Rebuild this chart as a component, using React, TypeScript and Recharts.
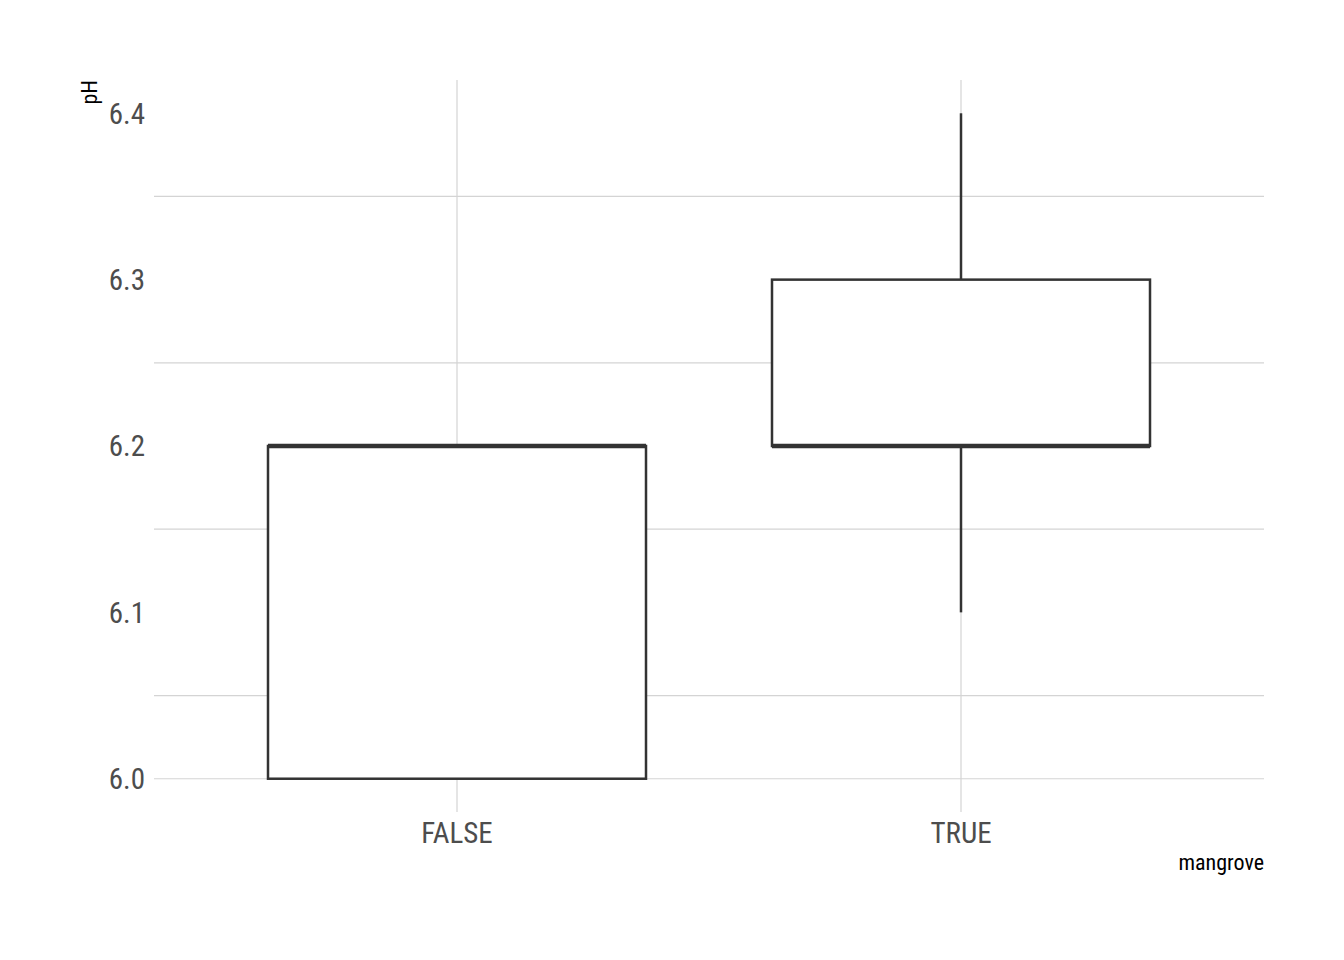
import { Bar, CartesianGrid, ComposedChart, XAxis, YAxis } from 'recharts';

const categories = ['FALSE', 'TRUE'];
const minValues = [6.0, 6.1];
const q1Values = [6.0, 6.2];
const medianValues = [6.2, 6.2];
const q3Values = [6.2, 6.3];
const maxValues = [6.2, 6.4];
const yTicks = [6.0, 6.1, 6.2, 6.3, 6.4];
const minorTicks = [6.05, 6.15, 6.25, 6.35];

const data = categories.map((name, i) => ({
  name,
  min: minValues[i],
  q1: q1Values[i],
  median: medianValues[i],
  q3: q3Values[i],
  max: maxValues[i],
  box: [q1Values[i], q3Values[i]],
}));

const font = "'Liberation Sans Narrow', 'Roboto Condensed', 'Liberation Sans', sans-serif";
const ink = '#333333';
const gridColor = '#d4d4d4';

// box drawn from the [q1, q3] bar; other values placed with the same scale
const BoxShape = (props: any) => {
  const { x, y, width, height, payload } = props;
  const top = Math.min(y, y + height);
  const h = Math.abs(height);
  const perUnit = h / (payload.q3 - payload.q1);
  const toY = (v: number) => top + (payload.q3 - v) * perUnit;
  const cx = x + width / 2;
  return (
    <g>
      {payload.max > payload.q3 && (
        <line x1={cx} x2={cx} y1={toY(payload.max)} y2={top} stroke={ink} strokeWidth={2.5} />
      )}
      {payload.min < payload.q1 && (
        <line x1={cx} x2={cx} y1={top + h} y2={toY(payload.min)} stroke={ink} strokeWidth={2.5} />
      )}
      <rect x={x} y={top} width={width} height={h} fill="#ffffff" stroke={ink} strokeWidth={2.5} />
      <line
        x1={x}
        x2={x + width}
        y1={toY(payload.median)}
        y2={toY(payload.median)}
        stroke={ink}
        strokeWidth={4.5}
      />
    </g>
  );
};

export default function App() {
  return (
    <div style={{ position: 'absolute', left: 0, top: 0, background: '#fff' }}>
      <ComposedChart
        width={1344}
        height={960}
        data={data}
        margin={{ top: 80, right: 80, bottom: 118, left: 0 }}
      >
        <CartesianGrid
          stroke={gridColor}
          strokeWidth={1.2}
          horizontalValues={[...yTicks, ...minorTicks]}
          verticalValues={categories}
        />
        <XAxis
          dataKey="name"
          type="category"
          height={30}
          axisLine={false}
          tickLine={false}
          tickSize={0}
          tickMargin={10}
          padding={{ left: 51, right: 51 }}
          tick={{ fontFamily: font, fontSize: 29, fill: '#4d4d4d' }}
          label={{
            content: ({ viewBox }: any) => (
              <text
                x={viewBox.x + viewBox.width}
                y={viewBox.y + 58}
                textAnchor="end"
                fontFamily={font}
                fontSize={22}
                fill="#000000"
              >
                mangrove
              </text>
            ),
          }}
        />
        <YAxis
          type="number"
          domain={[5.98, 6.42]}
          ticks={yTicks}
          allowDataOverflow
          width={154}
          axisLine={false}
          tickLine={false}
          tickSize={0}
          tickMargin={9}
          tickFormatter={(v: number) => v.toFixed(1)}
          tick={{ fontFamily: font, fontSize: 29, fill: '#4d4d4d' }}
          label={{
            content: () => (
              <text
                x={97}
                y={80}
                transform="rotate(-90 97 80)"
                textAnchor="end"
                fontFamily={font}
                fontSize={22}
                fill="#000000"
              >
                pH
              </text>
            ),
          }}
        />
        <Bar dataKey="box" barSize={378} shape={BoxShape} isAnimationActive={false} />
      </ComposedChart>
    </div>
  );
}
